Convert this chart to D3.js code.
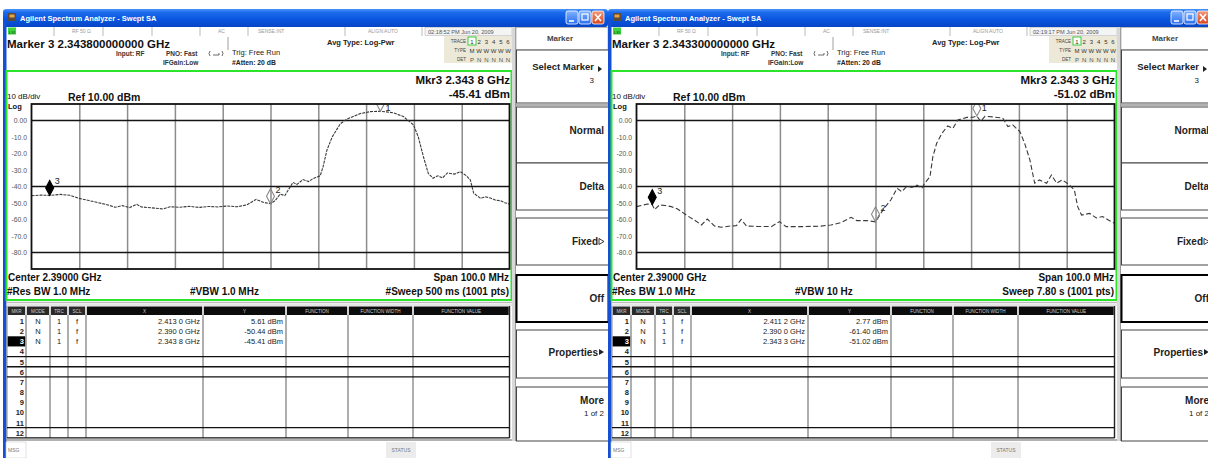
<!DOCTYPE html>
<html>
<head>
<meta charset="utf-8">
<script src="https://cdn.jsdelivr.net/npm/d3@7"></script>
<style>
  body { margin: 0; background: #fff; }
  svg { display: block; }
  text { font-family: "Liberation Sans", Arial, sans-serif; }
</style>
</head>
<body>
<svg id="c" width="1208" height="458"></svg>
<script>
// ---- Instrument settings ----
const startMHz = 2340, stopMHz = 2440;          // center 2.39 GHz, span 100 MHz
const refLevelDbm = 10, bottomDbm = -90;        // 10 dB/div, 10 divisions
const yTickValues = [0, -10, -20, -30, -40, -50, -60, -70, -80];
const yTickLabels = ["0.00", "-10.0", "-20.0", "-30.0", "-40.0", "-50.0", "-60.0", "-70.0", "-80.0"];
const gridFreqsMHz = [2350, 2360, 2370, 2380, 2390, 2400, 2410, 2420, 2430];
const displayLinesDbm = [0, -40, -80];

// ---- Trace A: VBW 1.0 MHz sweep ----
const traceFreqA = [2340, 2342, 2343.8, 2346, 2348, 2350, 2352, 2354, 2356, 2357.5, 2359, 2360.5, 2362, 2363,
  2365, 2367.5, 2369, 2371, 2373, 2375, 2377, 2379, 2381, 2383, 2385, 2387, 2388.5, 2390, 2391, 2392, 2393,
  2394.7, 2395.5, 2396.8, 2398, 2398.9, 2400.4, 2401, 2401.8, 2402.9, 2404.6, 2406, 2408.8, 2410.9, 2413,
  2415.7, 2417.8, 2419.9, 2420.9, 2422, 2423, 2424, 2425, 2426, 2427, 2428.5, 2429.7, 2431, 2431.8, 2432.5,
  2433.9, 2435, 2436, 2437, 2438.1, 2439, 2440];
const traceDbmA = [-45.6, -45.2, -45.41, -44.8, -45.3, -47.2, -48.5, -49.8, -51.2, -52.6, -51.6, -52.8, -50.8, -52.4,
  -52.9, -53.6, -52.3, -52.6, -52.0, -52.7, -52.1, -52.4, -51.8, -52.3, -51.2, -47.8, -49.6, -50.44, -48.5, -44.6, -45.5,
  -37.5, -38.8, -35.8, -37.0, -35.2, -33.5, -28, -18, -10, -2, 0.9, 4.2, 5.4, 5.61,
  4.7, 2.4, -2.6, -9.8, -22, -32, -35, -33.5, -34.8, -31.8, -32.5, -31, -33.5, -36, -44,
  -47.1, -46.3, -47, -48.2, -48.6, -49.8, -50.6];
const markerFreqA = [2.4130, 2.3900, 2.3438];
const markerDbmA = [5.61, -50.44, -45.41];

// ---- Trace B: VBW 10 Hz sweep ----
const traceFreqB = [2340, 2341, 2342.3, 2343.3, 2343.8, 2344.8, 2346, 2347.3, 2348.5, 2349.4, 2350.4, 2352.1, 2353.6,
  2354.8, 2356.3, 2357.7, 2359.8, 2360.9, 2361.9, 2363, 2365.3, 2368.2, 2369.9, 2371.3, 2375.1, 2378.6, 2380.7,
  2382.8, 2384.9, 2386.1, 2388.2, 2390, 2391.8, 2393.2, 2394.5, 2395.5, 2396.6, 2397.6, 2398.7, 2399.7, 2400.3,
  2401.4, 2402, 2402.8, 2403.9, 2405.1, 2406.2, 2407.2, 2409.1, 2410.4, 2411.2, 2412, 2412.9, 2414.5, 2416.6,
  2417.7, 2418.7, 2420.2, 2421.2, 2422.3, 2423.3, 2424.3, 2425.8, 2426.8, 2427.9, 2429.1, 2430.6, 2431.6, 2432.3,
  2433.1, 2434.8, 2436.2, 2437.5, 2438.8, 2440];
const traceDbmB = [-52.2, -51.5, -50.6, -51.02, -54.0, -51.2, -51.5, -52.2, -53.5, -55.2, -57.3, -60.3, -63.3,
  -59.7, -63.9, -64.7, -63.9, -63.8, -59.9, -64.0, -64.2, -64.3, -61.3, -64.3, -64.3, -64.0, -63.3,
  -61.9, -58.7, -60.7, -60.7, -61.40, -53.2, -48.2, -41.1, -43.1, -39.7, -40.5, -39.1, -41.1, -38.0,
  -34.0, -21.9, -13.8, -7.8, -3.3, -4.8, 0.3, 1.9, 2.0, 2.77, -0.5, 2.5, 2.2, 1.5,
  -3.7, -2.7, -6.7, -13.8, -23.9, -38, -36, -38, -33, -38, -36, -39.1, -42.1, -52.2,
  -57.3, -56.3, -59.1, -58.2, -60.5, -62.3];
const markerFreqB = [2.4112, 2.3900, 2.3433];
const markerDbmB = [2.77, -61.40, -51.02];

// ---- Per-screen annotation text ----
const vbwLabels = ["#VBW 1.0 MHz", "#VBW 10 Hz"];
const sweepLabels = ["#Sweep  500 ms (1001 pts)", "Sweep  7.80 s (1001 pts)"];
const timeStamps = ["02:18:52 PM Jun 20, 2009", "02:19:17 PM Jun 20, 2009"];
const menuLabels = ["Normal", "Delta", "Fixed", "Off", "Properties", "More"];
const tableHeaders = ["MKR", "MODE", "TRC", "SCL", "X", "Y", "FUNCTION", "FUNCTION WIDTH", "FUNCTION VALUE"];
const activeMarker = 2; // marker 3

// plain ASCII hyphen for negative numbers, as the instrument prints them
const loc = d3.formatLocale({ decimal: ".", thousands: ",", grouping: [3], currency: ["", ""], minus: "-" });

const svg = d3.select("#c");
const defs = svg.append("defs");
const tb = defs.append("linearGradient").attr("id", "tb").attr("x1", 0).attr("y1", 0).attr("x2", 0).attr("y2", 1);
[["0%", "#4a95fb"], ["18%", "#1d6cec"], ["55%", "#0a57e0"], ["100%", "#0745c6"]].forEach(s =>
  tb.append("stop").attr("offset", s[0]).attr("stop-color", s[1]));
const cb = defs.append("linearGradient").attr("id", "cb").attr("x1", 0).attr("y1", 0).attr("x2", 0).attr("y2", 1);
[["0%", "#f39a7c"], ["100%", "#d8441c"]].forEach(s => cb.append("stop").attr("offset", s[0]).attr("stop-color", s[1]));
const bb = defs.append("linearGradient").attr("id", "bb").attr("x1", 0).attr("y1", 0).attr("x2", 0).attr("y2", 1);
[["0%", "#7fb2ff"], ["100%", "#2a6df0"]].forEach(s => bb.append("stop").attr("offset", s[0]).attr("stop-color", s[1]));
defs.append("clipPath").attr("id", "plotclip").append("rect")
  .attr("x", 31.5).attr("y", 104).attr("width", 478).attr("height", 165);

const fmtX = v => { const s = loc.format(".4f")(v); return s.slice(0, -1) + " " + s.slice(-1); };
const fmtY = v => loc.format(".2f")(v);

function txt(g, x, y, s, size, opts = {}) {
  return g.append("text").attr("x", x).attr("y", y).text(s)
    .attr("font-size", size)
    .attr("font-weight", opts.bold ? "bold" : "normal")
    .attr("text-anchor", opts.anchor || "start")
    .attr("fill", opts.fill || "#111");
}
function hline(g, x1, x2, y, stroke, w) {
  g.append("line").attr("x1", x1).attr("x2", x2).attr("y1", y).attr("y2", y).attr("stroke", stroke).attr("stroke-width", w);
}
function vline(g, x, y1, y2, stroke, w) {
  g.append("line").attr("x1", x).attr("x2", x).attr("y1", y1).attr("y2", y2).attr("stroke", stroke).attr("stroke-width", w);
}

function drawScreen(idx, dx, traceFreq, traceDbm, mFreq, mDbm, dash) {
  const g = svg.append("g").attr("transform", `translate(${dx},0)`);

  // window body, frame and title bar
  g.append("rect").attr("x", 3).attr("y", 9).attr("width", 605).attr("height", 449).attr("fill", "#fff");
  g.append("rect").attr("x", 3).attr("y", 9).attr("width", 605).attr("height", 18).attr("rx", 3).attr("fill", "url(#tb)");
  g.append("rect").attr("x", 3).attr("y", 20).attr("width", 3.5).attr("height", 438).attr("fill", "#1550d4");
  g.append("rect").attr("x", 8).attr("y", 13).attr("width", 8).attr("height", 8).attr("fill", "#5a4a3a");
  g.append("rect").attr("x", 9.5).attr("y", 14.5).attr("width", 5).attr("height", 3).attr("fill", "#e8a040");
  txt(g, 20, 21, "Agilent Spectrum Analyzer - Swept SA", 7.5, { bold: true, fill: "#fff" });
  [[566, "url(#bb)"], [579, "url(#bb)"], [592, "url(#cb)"]].forEach(([bx, f]) =>
    g.append("rect").attr("x", bx).attr("y", 11).attr("width", 12).attr("height", 13).attr("rx", 2)
      .attr("fill", f).attr("stroke", "#fff").attr("stroke-width", 0.8));
  hline(g, 569, 574, 21, "#fff", 1.6);
  g.append("rect").attr("x", 582).attr("y", 14).attr("width", 6).attr("height", 6).attr("fill", "none").attr("stroke", "#fff").attr("stroke-width", 1.2);
  g.append("path").attr("d", "M595,14 L601,21 M601,14 L595,21").attr("stroke", "#fff").attr("stroke-width", 1.6);

  // status strip
  g.append("rect").attr("x", 8).attr("y", 27.5).attr("width", 8).attr("height", 7).attr("fill", "#3ed43e");
  txt(g, 9, 33.5, "LXI", 4, { fill: "#064006" });
  [54, 103, 152, 200, 248, 345, 422].forEach(x => vline(g, x, 27, 36, "#aaa", 0.8));
  vline(g, 228, 37, 50, "#888", 0.8);
  txt(g, 72, 33, "RF  50 Ω", 5, { fill: "#999" });
  txt(g, 218, 33, "AC", 5, { fill: "#999" });
  txt(g, 258, 33, "SENSE:INT", 5, { fill: "#999" });
  txt(g, 368, 33, "ALIGN AUTO", 5, { fill: "#999" });
  g.append("rect").attr("x", 425).attr("y", 27.5).attr("width", 87).attr("height", 8).attr("fill", "#f4f4f4").attr("stroke", "#bbb").attr("stroke-width", 0.6);
  txt(g, 428, 33.5, timeStamps[idx], 5.6, { fill: "#555" });

  // marker headline and acquisition settings
  const act = activeMarker;
  txt(g, 7, 47.5, `Marker ${act + 1}  ${loc.format(".12f")(mFreq[act])} GHz`, 11.5, { bold: true });
  txt(g, 116, 55.5, "Input: RF", 6.5, { bold: true, fill: "#333" });
  txt(g, 166, 55.5, "PNO: Fast", 6.5, { bold: true, fill: "#333" });
  g.append("path").attr("d", "M210,51 q-2,2.5 0,5 M222,51 q2,2.5 0,5 M213,55 h6 v-2").attr("fill", "none").attr("stroke", "#444").attr("stroke-width", 0.8);
  txt(g, 163, 65, "IFGain:Low", 6.5, { bold: true, fill: "#333" });
  txt(g, 232, 55, "Trig: Free Run", 7.5, { fill: "#222" });
  txt(g, 232, 64.5, "#Atten: 20 dB", 6.8, { bold: true, fill: "#222" });
  txt(g, 327, 45, "Avg Type: Log-Pwr", 7.5, { bold: true, fill: "#222" });

  // trace legend block
  g.append("rect").attr("x", 444).attr("y", 36).attr("width", 68).attr("height", 27).attr("fill", "#ece9d8");
  txt(g, 466, 43, "TRACE", 4.5, { anchor: "end", fill: "#444" });
  txt(g, 466, 52, "TYPE", 4.5, { anchor: "end", fill: "#444" });
  txt(g, 466, 61, "DET", 4.5, { anchor: "end", fill: "#444" });
  g.append("rect").attr("x", 468).attr("y", 37).attr("width", 8).attr("height", 8).attr("fill", "#fff").attr("stroke", "#3ec83e").attr("stroke-width", 1);
  ["1", "2", "3", "4", "5", "6"].forEach((t, i) => txt(g, 472 + i * 7.2, 43.5, t, 6, { anchor: "middle", fill: "#333" }));
  ["M", "W", "W", "W", "W", "W"].forEach((t, i) => txt(g, 472 + i * 7.2, 52.5, t, 6, { anchor: "middle", fill: "#333" }));
  ["P", "N", "N", "N", "N", "N"].forEach((t, i) => txt(g, 472 + i * 7.2, 61.5, t, 6, { anchor: "middle", fill: "#555" }));

  // graph frame
  g.append("rect").attr("x", 6.5).attr("y", 71).attr("width", 505).attr("height", 229)
    .attr("fill", "none").attr("stroke", "#2be52b").attr("stroke-width", 2);
  txt(g, 510, 84, `Mkr${act + 1} ${fmtX(mFreq[act])} GHz`, 11.5, { bold: true, anchor: "end" });
  txt(g, 510, 97.5, `${fmtY(mDbm[act])} dBm`, 11.5, { bold: true, anchor: "end" });
  txt(g, 7, 98.5, "10 dB/div", 8, { fill: "#111" });
  txt(g, 68, 100.5, `Ref ${loc.format(".2f")(refLevelDbm)} dBm`, 10.5, { bold: true });
  txt(g, 8, 108.5, "Log", 7.5, { bold: true });

  // scales
  const x = d3.scaleLinear().domain([startMHz, stopMHz]).range([31.5, 509.5]);
  const y = d3.scaleLinear().domain([bottomDbm, refLevelDbm]).range([269, 104]);

  // vertical graticule
  const gx = g.append("g").attr("transform", "translate(0,269)")
    .call(d3.axisBottom(x).tickValues(gridFreqsMHz).tickSize(-165).tickFormat(""));
  gx.select(".domain").remove();
  gx.selectAll("line").attr("stroke", "#8c8c8c").attr("stroke-width", 1.5);

  // display lines
  displayLinesDbm.forEach(v => hline(g, 31.5, 509.5, y(v), "#151515", 1.4));

  // amplitude labels
  const gy = g.append("g").attr("transform", "translate(31.5,0)")
    .call(d3.axisLeft(y).tickValues(yTickValues).tickSize(0).tickPadding(4.5).tickFormat((d, i) => yTickLabels[i]));
  gy.select(".domain").remove();
  gy.selectAll("text").attr("font-size", 6.8).attr("fill", "#555").attr("font-family", "Liberation Sans, Arial, sans-serif");

  // trace
  const pts = d3.zip(traceFreq, traceDbm);
  g.append("path").attr("clip-path", "url(#plotclip)")
    .attr("d", d3.line().x(d => x(d[0])).y(d => y(d[1]))(pts))
    .attr("fill", "none").attr("stroke", "#3a3a3a").attr("stroke-width", 1.1).attr("stroke-dasharray", dash);

  // markers
  const mk = g.append("g").attr("clip-path", "url(#plotclip)");
  mFreq.forEach((f, i) => {
    const mx = x(f * 1000), my = y(mDbm[i]);
    mk.append("path").attr("d", `M${mx},${my} L${mx + 4},${my - 7.5} L${mx},${my - 15} L${mx - 4},${my - 7.5} Z`)
      .attr("fill", i === act ? "#000" : "none")
      .attr("stroke", i === act ? "#000" : "#888").attr("stroke-width", 1.1);
    mk.append("text").attr("x", mx + 5).attr("y", Math.max(my - 11, 111)).text(i + 1)
      .attr("font-size", 9).attr("fill", "#222");
  });

  // plot border
  g.append("rect").attr("x", 31.5).attr("y", 104).attr("width", 478).attr("height", 165)
    .attr("fill", "none").attr("stroke", "#111").attr("stroke-width", 1.8);

  txt(g, 8, 281, `Center ${loc.format(".5f")((startMHz + stopMHz) / 2000)} GHz`, 10, { bold: true });
  txt(g, 7, 295, "#Res BW 1.0 MHz", 10, { bold: true });
  txt(g, 190, 295, vbwLabels[idx], 10, { bold: true });
  txt(g, 509, 281, `Span ${loc.format(".1f")(stopMHz - startMHz)} MHz`, 10, { bold: true, anchor: "end" });
  txt(g, 509, 295, sweepLabels[idx], 10, { bold: true, anchor: "end" });

  // marker table
  const cols = [7, 26, 50, 68, 86, 203, 286, 348, 413, 509.5];
  hline(g, 6, 512, 302.5, "#bbb", 1.5);
  hline(g, 6, 512, 305, "#ccc", 1);
  tableHeaders.forEach((h, i) => {
    g.append("rect").attr("x", cols[i] + 0.8).attr("y", 306.5).attr("width", cols[i + 1] - cols[i] - 1.6).attr("height", 8.5).attr("fill", i < 4 ? "#2a2a2a" : "#0c0c0c");
    txt(g, (cols[i] + cols[i + 1]) / 2, 313, h, 4.6, { anchor: "middle", fill: "#ccc" });
  });
  const rowTop = 316, rowH = 10.15;
  g.append("rect").attr("x", 7.5).attr("y", rowTop + 2 * rowH).attr("width", 18).attr("height", rowH).attr("fill", "#000");
  d3.range(12).forEach(r => {
    txt(g, 24, rowTop + r * rowH + 8, String(r + 1), 7.5, { anchor: "end", bold: true, fill: r === act ? "#fff" : "#222" });
  });
  mFreq.forEach((f, r) => {
    const by = rowTop + r * rowH + 8;
    txt(g, 38, by, "N", 7.5, { anchor: "middle", fill: "#222" });
    txt(g, 59, by, "1", 7.5, { anchor: "middle", fill: "#222" });
    txt(g, 77, by, "f", 7.5, { anchor: "middle", fill: "#222" });
    txt(g, 200, by, `${fmtX(f)} GHz`, 7.5, { anchor: "end", fill: "#222" });
    txt(g, 283, by, `${fmtY(mDbm[r])} dBm`, 7.5, { anchor: "end", fill: "#222" });
  });
  cols.slice(1, -1).forEach(cx => vline(g, cx, 315, 438, "#9a9a9a", 1.6));
  vline(g, 7, 306, 438, "#888", 1);
  vline(g, 509.5, 306, 438, "#222", 1.4);
  [4, 5, 6, 11].forEach(r => hline(g, 7, 509.5, rowTop + r * rowH, "#111", 1.3));
  hline(g, 7, 509.5, rowTop + 12 * rowH, "#111", 1.3);
  hline(g, 6, 512, 440, "#999", 1.5);

  // message / status strip
  g.append("rect").attr("x", 6).attr("y", 442).attr("width", 20).attr("height", 16).attr("fill", "#fff").attr("stroke", "#ccc").attr("stroke-width", 0.6);
  txt(g, 8, 452, "MSG", 5, { fill: "#777" });
  g.append("rect").attr("x", 386).attr("y", 442).attr("width", 30).attr("height", 16).attr("fill", "#ececec");
  txt(g, 401, 452, "STATUS", 5, { anchor: "middle", fill: "#777" });

  // soft-key menu
  g.append("rect").attr("x", 512).attr("y", 27).attr("width", 3.5).attr("height", 414).attr("fill", "#d8d8d8");
  vline(g, 515.5, 27, 441, "#999", 1);
  g.append("rect").attr("x", 516).attr("y", 27.5).attr("width", 92).attr("height", 22.5).attr("fill", "#fff").attr("stroke", "#aaa").attr("stroke-width", 0.8);
  txt(g, 560, 40.5, "Marker", 8, { bold: true, anchor: "middle", fill: "#444" });
  const keys = [[50, 103], [107, 163], [163, 210], [218, 265], [275, 322], [330, 378], [387, 441]];
  keys.forEach(([y0, y1], i) => {
    g.append("rect").attr("x", 516.5).attr("y", y0).attr("width", 92).attr("height", y1 - y0)
      .attr("fill", "#fff").attr("stroke", i === 4 ? "#000" : "#444").attr("stroke-width", i === 4 ? 2 : 1);
  });
  hline(g, 516, 608, 105, "#666", 1);
  txt(g, 594, 69.5, "Select Marker", 9.5, { bold: true, anchor: "end", fill: "#222" });
  g.append("path").attr("d", "M598,66 l4,3 l-4,3 Z").attr("fill", "#222");
  txt(g, 594, 83, String(act + 1), 8, { anchor: "end", fill: "#222" });
  const keyY = [134, 190, 245, 302, 356, 404];
  menuLabels.forEach((m, i) => {
    const shift = (i === 2 || i === 4) ? 6 : 0;
    txt(g, 604 - shift, keyY[i], m, 10, { bold: true, anchor: "end", fill: "#222" });
  });
  g.append("path").attr("d", "M599,238.5 l5,3 l-5,3 Z").attr("fill", "none").attr("stroke", "#222").attr("stroke-width", 0.9);
  g.append("path").attr("d", "M599,349 l5,3 l-5,3 Z").attr("fill", "#222");
  txt(g, 604, 416, "1 of 2", 8, { anchor: "end", fill: "#222" });
}

drawScreen(0, 0, traceFreqA, traceDbmA, markerFreqA, markerDbmA, "3,1");
drawScreen(1, 605, traceFreqB, traceDbmB, markerFreqB, markerDbmB, "5,2.5");
</script>
</body>
</html>
